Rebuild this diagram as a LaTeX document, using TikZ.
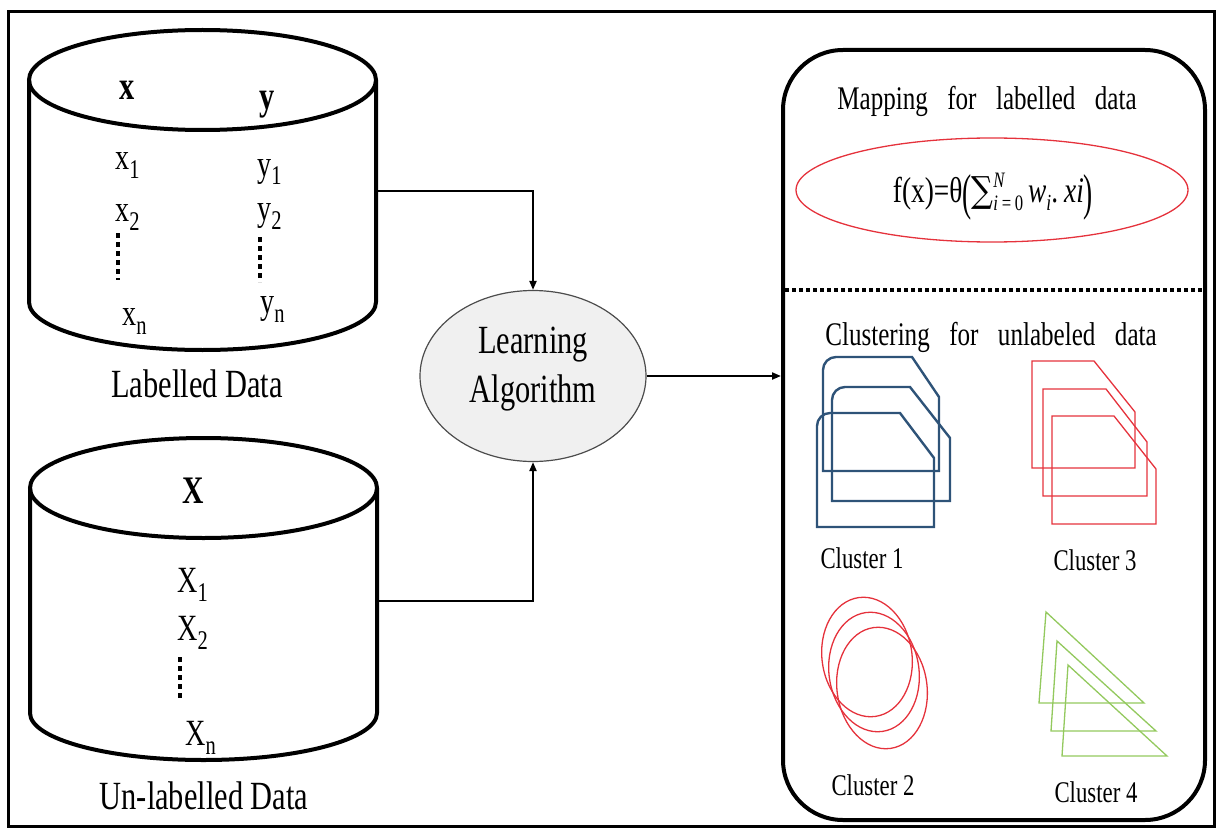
\documentclass[tikz,border=0pt]{standalone}
\usepackage{graphicx}
\usepackage{fontspec}
\setmainfont[FakeStretch=0.76]{Liberation Serif}
\newfontfamily\symfont[FakeStretch=0.85]{DejaVu Serif}
\usetikzlibrary{shapes.geometric,arrows.meta}

\definecolor{clblue}{HTML}{2E5378}
\definecolor{clred}{HTML}{E5323C}
\definecolor{clgreen}{HTML}{93C95E}
\definecolor{algfill}{HTML}{F0F0F0}

% lowered index digit / letter, set almost at full size
\newcommand\lowsub[1]{\raisebox{-9pt}{\fontsize{27}{27}\selectfont #1}}
% pieces of the mapping formula
\newcommand\tallparen[1]{\raisebox{-6pt}{\scalebox{1}[1.4]{#1}}}
\newcommand\sumscripts[2]{{\fontsize{22}{22}\selectfont\makebox[0pt][l]{\raisebox{15pt}{#1}}\raisebox{-8pt}{#2}}}
\newcommand\smallsub[1]{\raisebox{-7pt}{\fontsize{23}{23}\selectfont #1}}

\tikzset{
  outerframe/.style={line width=3pt},
  cylline/.style={line width=4pt},
  body/.style={inner sep=0pt, outer sep=0pt},
  conn/.style={line width=2pt, -{Triangle[length=9pt,width=7pt]}},
  colfont/.style={font=\fontsize{37}{40}\selectfont, inner sep=0pt},
  caption/.style={font=\fontsize{40}{48}\selectfont, anchor=base, inner sep=0pt},
  title/.style={font=\fontsize{33}{40}\selectfont, anchor=base, inner sep=0pt},
  clcaption/.style={font=\fontsize{30}{36}\selectfont, anchor=base, inner sep=0pt},
  vdots/.style={line width=4pt, dash pattern=on 5pt off 4pt},
  blueshape/.style={draw=clblue, line width=2.4pt},
  redshape/.style={draw=clred, line width=1.3pt},
  greenshape/.style={draw=clgreen, line width=1.3pt},
}

\begin{document}
\begin{tikzpicture}[x=1pt, y=-1pt]
\useasboundingbox (0,0) rectangle (1217,829);
\draw[outerframe] (8,12) rectangle (1214,826);

% ---------- labelled data store ----------
\node[body, minimum width=347pt, minimum height=222pt] (lab) at (202.5,191) {};
\draw[cylline] (202.5,80) ellipse[x radius=173.5, y radius=50];
\draw[cylline] (lab.north west) -- (lab.south west)
  arc[start angle=180, end angle=0, x radius=173.5, y radius=48] -- (lab.north east);
\node[colfont, anchor=base west] (hx) at (119,100) {\fontsize{40}{40}\selectfont\textbf{x}};
\node[colfont, anchor=base west] (hy) at (259,110) {\fontsize{40}{40}\selectfont\textbf{y}};
\node[colfont, anchor=base west] (x1) at (115,170) {x\lowsub{1}};
\node[colfont, anchor=base west] (y1) at (257,176) {y\lowsub{1}};
\node[colfont, anchor=base west] (x2) at (115,222) {x\lowsub{2}};
\node[colfont, anchor=base west] (y2) at (257,220) {y\lowsub{2}};
\node[colfont, anchor=base west] (xn) at (122,325) {x\lowsub{n}};
\node[colfont, anchor=base west] (yn) at (260,313) {y\lowsub{n}};
\coordinate (xd1) at (118,233); \coordinate (xd2) at (118,280);
\coordinate (yd1) at (260,237); \coordinate (yd2) at (260,282);
\draw[vdots] (xd1) -- (xd2);
\draw[vdots] (yd1) -- (yd2);
\node[caption] (labcap) at (197,397) {Labelled Data};

% ---------- un-labelled data store ----------
\node[body, minimum width=347pt, minimum height=225pt] (unl) at (203.5,600.5) {};
\draw[cylline] (203.5,488) ellipse[x radius=173.5, y radius=50];
\draw[cylline] (unl.north west) -- (unl.south west)
  arc[start angle=180, end angle=0, x radius=173.5, y radius=47] -- (unl.north east);
\node[colfont, anchor=base west] (hX) at (182,503) {\fontsize{39}{40}\selectfont\textbf{X}};
\node[colfont, anchor=base west] (X1) at (177,592) {X\lowsub{1}};
\node[colfont, anchor=base west] (X2) at (177,640) {X\lowsub{2}};
\node[colfont, anchor=base west] (Xn) at (185,745) {X\lowsub{n}};
\coordinate (Xd1) at (180,657); \coordinate (Xd2) at (180,700);
\draw[vdots] (Xd1) -- (Xd2);
\node[caption] (unlcap) at (204,809) {Un-labelled Data};

% ---------- learning algorithm ----------
\node[ellipse, draw=black!70, fill=algfill, line width=1.2pt,
      minimum width=226pt, minimum height=171pt, inner sep=0pt] (learn) at (533,376) {};
\node[align=center, font=\fontsize{40}{49}\selectfont, inner sep=0pt] (learnlbl) at (533,369) {Learning\\Algorithm};

% ---------- result panel ----------
\node[draw, line width=4pt, rounded corners=60pt, minimum width=422pt,
      minimum height=770pt, inner sep=0pt] (result) at (994,435) {};
\coordinate (divL) at (785,290);
\coordinate (divR) at (1203,290);
\draw[line width=4pt, dash pattern=on 4pt off 3pt] (divL) -- (divR);

\node[title] (maptitle) at (987,110) {Mapping\hspace{0.4em} for\hspace{0.4em} labelled\hspace{0.4em} data};
\node[ellipse, draw=clred, line width=1.3pt, minimum width=392pt, minimum height=104pt,
      inner sep=0pt] (map) at (992,190) {};
\node[font=\fontsize{36}{40}\selectfont, inner sep=0pt, anchor=base] (formula) at (993,203)
  {f(x)=θ\tallparen{(}{\symfont∑}\sumscripts{\textit{N}}{\textit{i}\,=\,0}\hspace{5pt}\textit{w}\smallsub{\textit{i}}.\,\textit{xi}\tallparen{)}};
\node[title] (cltitle) at (991,345) {Clustering\hspace{0.4em} for\hspace{0.4em} unlabeled\hspace{0.4em} data};

% cluster 1: chamfered boxes with one rounded corner
\draw[blueshape] (823,471) -- (823,370) arc[start angle=180, end angle=270, radius=13]
  -- (912,357) -- (939,397) -- (939,471) -- cycle;
\draw[blueshape] (832,501) -- (832,400) arc[start angle=180, end angle=270, radius=13]
  -- (910,387) -- (950,438) -- (950,501) -- cycle;
\draw[blueshape] (817,527) -- (817,426) arc[start angle=180, end angle=270, radius=13]
  -- (900,413) -- (934,458) -- (934,527) -- cycle;
\node[clcaption] (c1) at (862,568) {Cluster 1};

% cluster 3: chamfered boxes
\draw[redshape] (1032,468) -- (1032,361) -- (1094,361) -- (1135,412) -- (1135,468) -- cycle;
\draw[redshape] (1043,496) -- (1043,389) -- (1106,389) -- (1147,442) -- (1147,496) -- cycle;
\draw[redshape] (1052,524) -- (1052,416) -- (1114,416) -- (1156,469) -- (1156,524) -- cycle;
\node[clcaption] (c3) at (1095,570) {Cluster 3};

% cluster 2: tilted ellipses
\draw[redshape, rotate around={8:(867,657)}] (867,657) ellipse[x radius=45, y radius=60];
\draw[redshape, rotate around={8:(874,672)}] (874,672) ellipse[x radius=45, y radius=60];
\draw[redshape, rotate around={8:(882,688)}] (882,688) ellipse[x radius=45, y radius=61];
\node[clcaption] (c2) at (873,795) {Cluster 2};

% cluster 4: triangles
\draw[greenshape] (1046,612) -- (1039,703) -- (1144,703) -- cycle;
\draw[greenshape] (1057,641) -- (1051,731) -- (1156,731) -- cycle;
\draw[greenshape] (1068,665) -- (1062,756) -- (1167,756) -- cycle;
\node[clcaption] (c4) at (1096,802) {Cluster 4};

% ---------- connectors ----------
\draw[conn] (lab.east) -| (learn.north);
\draw[conn] (unl.east) -| (learn.south);
\draw[conn] (learn.east) -- (learn.east -| result.west);
\end{tikzpicture}
\end{document}
